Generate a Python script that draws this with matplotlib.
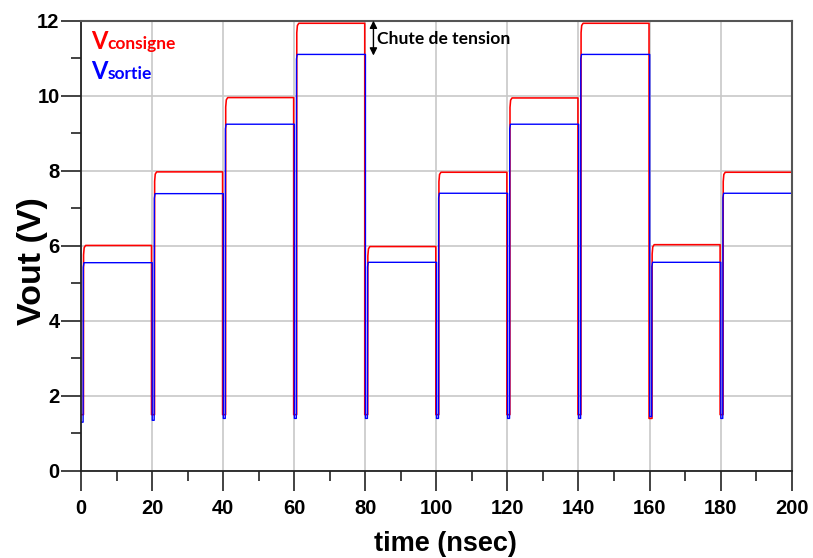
import matplotlib
matplotlib.use("Agg")
import matplotlib.pyplot as plt
import numpy as np

# ---- data ----
segment_starts = [0, 20, 40, 60, 80, 100, 120, 140, 160, 180]   # nsec
segment_end = 200
red_levels = [6.01, 7.97, 9.95, 11.93, 5.98, 7.96, 9.94, 11.93, 6.03, 7.96]   # Vconsigne (V)
blue_levels = [5.55, 7.39, 9.24, 11.10, 5.56, 7.40, 9.24, 11.10, 5.56, 7.40]  # Vsortie (V)
red_lows = [1.5, 1.5, 1.5, 1.5, 1.5, 1.5, 1.5, 1.5, 1.4, 1.5]
blue_lows = [1.3, 1.35, 1.4, 1.4, 1.4, 1.4, 1.4, 1.4, 1.45, 1.4]

x_ticks = [0, 20, 40, 60, 80, 100, 120, 140, 160, 180, 200]
y_ticks = [0, 2, 4, 6, 8, 10, 12]

# transition timing (nsec) relative to each segment start
RED_DROP, RED_RISE = -0.15, 0.7
BLUE_DROP, BLUE_RISE = 0.05, 0.6


def waveform(starts, levels, lows, drop, rise, rounded):
    ts, vs = [], []
    n = len(starts)
    for i in range(n):
        t0 = starts[i]
        t_end = starts[i + 1] if i + 1 < n else segment_end
        L, lo = levels[i], lows[i]
        tb = max(t0 + drop, 0) if i > 0 else 0
        ts += [tb, t0 + rise]
        vs += [lo, lo]
        if rounded:
            ts += [t0 + rise + 0.03, t0 + rise + 0.2, t0 + rise + 0.6]
            vs += [L - 0.25, L - 0.06, L]
        else:
            ts += [t0 + rise + 0.05, t0 + rise + 0.25]
            vs += [L - 0.12, L]
        te = t_end + (drop if i + 1 < n else 0)
        ts += [te]
        vs += [L]
    return np.array(ts), np.array(vs)


fig = plt.figure(figsize=(8.13, 5.58), dpi=100)
ax = fig.add_axes([0.0996, 0.156, 0.8742, 0.807])

rt, rv = waveform(segment_starts, red_levels, red_lows, RED_DROP, RED_RISE, True)
bt, bv = waveform(segment_starts, blue_levels, blue_lows, BLUE_DROP, BLUE_RISE, False)
ax.plot(rt, rv, color="#ff0000", lw=1.15, solid_joinstyle="round")
ax.plot(bt, bv, color="#0000ff", lw=1.0, solid_joinstyle="round")

ax.set_xlim(0, 200)
ax.set_ylim(0, 12)
ax.set_xticks(x_ticks)
ax.set_yticks(y_ticks)
ax.set_xticks(np.arange(10, 200, 20), minor=True)
ax.set_yticks(np.arange(1, 12, 2), minor=True)
ax.grid(True, which="major", color="#c8c8c8", lw=1.2)
ax.set_axisbelow(True)

tick_font = dict(family="Liberation Sans", weight="bold", size=14.5)
ax.set_xticklabels([str(v) for v in x_ticks], **tick_font)
ax.set_yticklabels([str(v) for v in y_ticks], **tick_font)
ax.tick_params(which="major", direction="out", length=14.4, width=1.2, color="#222222")
ax.tick_params(which="minor", direction="out", length=7.2, width=1.2, color="#222222")
ax.tick_params(axis="x", which="major", pad=6)
ax.tick_params(axis="y", which="major", pad=1)

for s in ["left", "bottom"]:
    ax.spines[s].set_color("#222222")
    ax.spines[s].set_linewidth(1.3)
for s in ["top", "right"]:
    ax.spines[s].set_color("#555555")
    ax.spines[s].set_linewidth(1.5)

ax.set_xlabel("time (nsec)", family="Liberation Sans", weight="bold", size=19.5)
ax.set_ylabel("Vout (V)", family="Liberation Sans", weight="bold", size=24.5)
ax.xaxis.set_label_coords(0.513, -0.133)
ax.yaxis.set_label_coords(-0.046, 0.467)

# legend-like labels
legend_font = "Lato"
t1 = ax.text(2.8, 11.25, "V", color="#ff0000", family=legend_font, weight="bold", size=17, va="baseline")
t2 = ax.text(2.8, 10.45, "V", color="#0000ff", family=legend_font, weight="bold", size=17, va="baseline")
fig.canvas.draw()
r = fig.canvas.get_renderer()
for tt, word, col in [(t1, "consigne", "#ff0000"), (t2, "sortie", "#0000ff")]:
    bb = tt.get_window_extent(r)
    xd = ax.transData.inverted().transform((bb.x1, 0))[0]
    ax.text(xd, tt.get_position()[1], word, color=col, family=legend_font,
            weight="bold", size=12.5, va="baseline")

# voltage drop annotation
ax.annotate("", xy=(82.3, 12.0), xytext=(82.3, 11.07),
            arrowprops=dict(arrowstyle="<|-|>", color="black", lw=1.0,
                            mutation_scale=11, shrinkA=0, shrinkB=0))
ax.text(83.2, 11.5, "Chute de tension", family=legend_font, weight="bold",
        size=12.6, va="center", ha="left", color="black")

fig.savefig("out.png", dpi=100)
